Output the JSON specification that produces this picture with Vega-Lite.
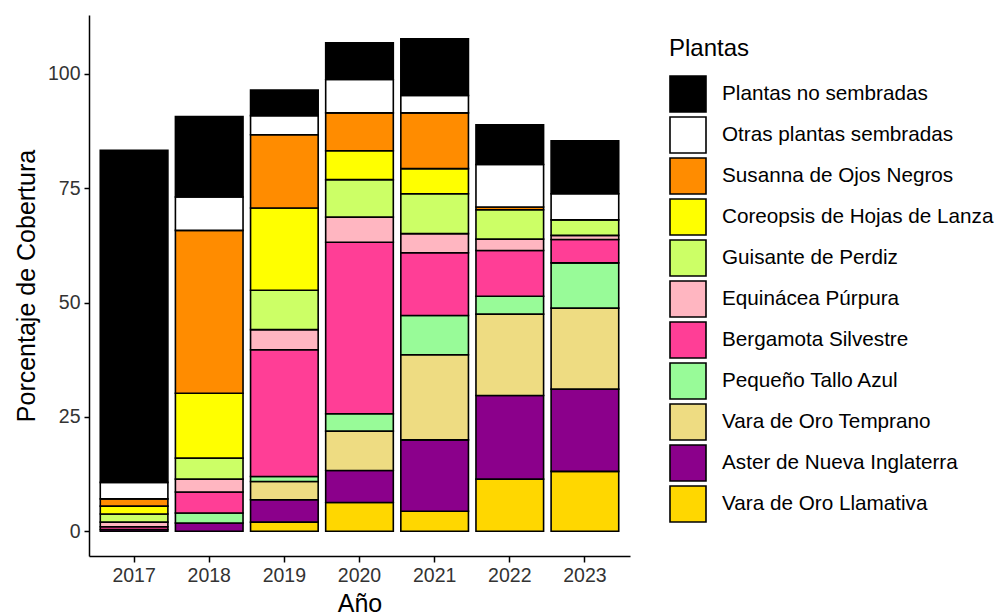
{
  "$schema": "https://vega.github.io/schema/vega-lite/v6.json",
  "width": 541,
  "height": 541,
  "autosize": "none",
  "padding": {"left": 89, "top": 15, "right": 366, "bottom": 60},
  "background": "white",
  "config": {
    "view": {"stroke": null},
    "font": "Liberation Sans"
  },
  "data": {
    "values": [
      {"Año": "2017", "Plantas": "Aster de Nueva Inglaterra", "Porcentaje": 0.4},
      {"Año": "2017", "Plantas": "Bergamota Silvestre", "Porcentaje": 0.6},
      {"Año": "2017", "Plantas": "Equinácea Púrpura", "Porcentaje": 1.0},
      {"Año": "2017", "Plantas": "Guisante de Perdiz", "Porcentaje": 1.8},
      {"Año": "2017", "Plantas": "Coreopsis de Hojas de Lanza", "Porcentaje": 1.7},
      {"Año": "2017", "Plantas": "Susanna de Ojos Negros", "Porcentaje": 1.6},
      {"Año": "2017", "Plantas": "Otras plantas sembradas", "Porcentaje": 3.6},
      {"Año": "2017", "Plantas": "Plantas no sembradas", "Porcentaje": 72.6},

      {"Año": "2018", "Plantas": "Aster de Nueva Inglaterra", "Porcentaje": 1.8},
      {"Año": "2018", "Plantas": "Pequeño Tallo Azul", "Porcentaje": 2.2},
      {"Año": "2018", "Plantas": "Bergamota Silvestre", "Porcentaje": 4.6},
      {"Año": "2018", "Plantas": "Equinácea Púrpura", "Porcentaje": 2.8},
      {"Año": "2018", "Plantas": "Guisante de Perdiz", "Porcentaje": 4.6},
      {"Año": "2018", "Plantas": "Coreopsis de Hojas de Lanza", "Porcentaje": 14.2},
      {"Año": "2018", "Plantas": "Susanna de Ojos Negros", "Porcentaje": 35.6},
      {"Año": "2018", "Plantas": "Otras plantas sembradas", "Porcentaje": 7.3},
      {"Año": "2018", "Plantas": "Plantas no sembradas", "Porcentaje": 17.6},

      {"Año": "2019", "Plantas": "Vara de Oro Llamativa", "Porcentaje": 2.0},
      {"Año": "2019", "Plantas": "Aster de Nueva Inglaterra", "Porcentaje": 4.9},
      {"Año": "2019", "Plantas": "Vara de Oro Temprano", "Porcentaje": 4.0},
      {"Año": "2019", "Plantas": "Pequeño Tallo Azul", "Porcentaje": 1.1},
      {"Año": "2019", "Plantas": "Bergamota Silvestre", "Porcentaje": 27.7},
      {"Año": "2019", "Plantas": "Equinácea Púrpura", "Porcentaje": 4.4},
      {"Año": "2019", "Plantas": "Guisante de Perdiz", "Porcentaje": 8.6},
      {"Año": "2019", "Plantas": "Coreopsis de Hojas de Lanza", "Porcentaje": 18.0},
      {"Año": "2019", "Plantas": "Susanna de Ojos Negros", "Porcentaje": 16.0},
      {"Año": "2019", "Plantas": "Otras plantas sembradas", "Porcentaje": 4.2},
      {"Año": "2019", "Plantas": "Plantas no sembradas", "Porcentaje": 5.6},

      {"Año": "2020", "Plantas": "Vara de Oro Llamativa", "Porcentaje": 6.3},
      {"Año": "2020", "Plantas": "Aster de Nueva Inglaterra", "Porcentaje": 7.0},
      {"Año": "2020", "Plantas": "Vara de Oro Temprano", "Porcentaje": 8.6},
      {"Año": "2020", "Plantas": "Pequeño Tallo Azul", "Porcentaje": 3.8},
      {"Año": "2020", "Plantas": "Bergamota Silvestre", "Porcentaje": 37.5},
      {"Año": "2020", "Plantas": "Equinácea Púrpura", "Porcentaje": 5.5},
      {"Año": "2020", "Plantas": "Guisante de Perdiz", "Porcentaje": 8.2},
      {"Año": "2020", "Plantas": "Coreopsis de Hojas de Lanza", "Porcentaje": 6.3},
      {"Año": "2020", "Plantas": "Susanna de Ojos Negros", "Porcentaje": 8.3},
      {"Año": "2020", "Plantas": "Otras plantas sembradas", "Porcentaje": 7.3},
      {"Año": "2020", "Plantas": "Plantas no sembradas", "Porcentaje": 8.0},

      {"Año": "2021", "Plantas": "Vara de Oro Llamativa", "Porcentaje": 4.4},
      {"Año": "2021", "Plantas": "Aster de Nueva Inglaterra", "Porcentaje": 15.6},
      {"Año": "2021", "Plantas": "Vara de Oro Temprano", "Porcentaje": 18.6},
      {"Año": "2021", "Plantas": "Pequeño Tallo Azul", "Porcentaje": 8.6},
      {"Año": "2021", "Plantas": "Bergamota Silvestre", "Porcentaje": 13.7},
      {"Año": "2021", "Plantas": "Equinácea Púrpura", "Porcentaje": 4.2},
      {"Año": "2021", "Plantas": "Guisante de Perdiz", "Porcentaje": 8.7},
      {"Año": "2021", "Plantas": "Coreopsis de Hojas de Lanza", "Porcentaje": 5.5},
      {"Año": "2021", "Plantas": "Susanna de Ojos Negros", "Porcentaje": 12.2},
      {"Año": "2021", "Plantas": "Otras plantas sembradas", "Porcentaje": 3.8},
      {"Año": "2021", "Plantas": "Plantas no sembradas", "Porcentaje": 12.4},

      {"Año": "2022", "Plantas": "Vara de Oro Llamativa", "Porcentaje": 11.4},
      {"Año": "2022", "Plantas": "Aster de Nueva Inglaterra", "Porcentaje": 18.3},
      {"Año": "2022", "Plantas": "Vara de Oro Temprano", "Porcentaje": 17.8},
      {"Año": "2022", "Plantas": "Pequeño Tallo Azul", "Porcentaje": 3.9},
      {"Año": "2022", "Plantas": "Bergamota Silvestre", "Porcentaje": 10.0},
      {"Año": "2022", "Plantas": "Equinácea Púrpura", "Porcentaje": 2.5},
      {"Año": "2022", "Plantas": "Guisante de Perdiz", "Porcentaje": 6.4},
      {"Año": "2022", "Plantas": "Susanna de Ojos Negros", "Porcentaje": 0.6},
      {"Año": "2022", "Plantas": "Otras plantas sembradas", "Porcentaje": 9.3},
      {"Año": "2022", "Plantas": "Plantas no sembradas", "Porcentaje": 8.7},

      {"Año": "2023", "Plantas": "Vara de Oro Llamativa", "Porcentaje": 13.1},
      {"Año": "2023", "Plantas": "Aster de Nueva Inglaterra", "Porcentaje": 18.0},
      {"Año": "2023", "Plantas": "Vara de Oro Temprano", "Porcentaje": 17.7},
      {"Año": "2023", "Plantas": "Pequeño Tallo Azul", "Porcentaje": 9.9},
      {"Año": "2023", "Plantas": "Bergamota Silvestre", "Porcentaje": 5.1},
      {"Año": "2023", "Plantas": "Equinácea Púrpura", "Porcentaje": 0.9},
      {"Año": "2023", "Plantas": "Guisante de Perdiz", "Porcentaje": 3.4},
      {"Año": "2023", "Plantas": "Otras plantas sembradas", "Porcentaje": 5.7},
      {"Año": "2023", "Plantas": "Plantas no sembradas", "Porcentaje": 11.6}
    ]
  },
  "transform": [
    {"calculate": "indexof(['Vara de Oro Llamativa','Aster de Nueva Inglaterra','Vara de Oro Temprano','Pequeño Tallo Azul','Bergamota Silvestre','Equinácea Púrpura','Guisante de Perdiz','Coreopsis de Hojas de Lanza','Susanna de Ojos Negros','Otras plantas sembradas','Plantas no sembradas'], datum.Plantas)", "as": "capa"}
  ],
  "mark": {"type": "bar", "stroke": "black", "strokeWidth": 1.6},
  "encoding": {
    "x": {
      "field": "Año", "type": "ordinal",
      "scale": {"paddingInner": 0.1, "paddingOuter": 0.15},
      "axis": {
        "labelAngle": 0, "labelFontSize": 19.5, "labelColor": "#333333", "labelPadding": 4,
        "tickColor": "black", "tickSize": 6, "tickWidth": 1.5,
        "domainColor": "black", "domainWidth": 1.5,
        "title": "Año", "titleFontSize": 25, "titleFontWeight": "normal", "titleColor": "black", "titlePadding": 7
      }
    },
    "y": {
      "field": "Porcentaje", "type": "quantitative", "stack": "zero",
      "scale": {"domain": [-5.4, 112.9], "nice": false, "zero": false},
      "axis": {
        "values": [0, 25, 50, 75, 100], "grid": false,
        "labelFontSize": 19.5, "labelColor": "#333333", "labelPadding": 4,
        "tickColor": "black", "tickSize": 5, "tickWidth": 1.5,
        "domainColor": "black", "domainWidth": 1.5,
        "title": "Porcentaje de Cobertura", "titleFontSize": 25, "titleFontWeight": "normal", "titleColor": "black", "titlePadding": 8
      }
    },
    "color": {
      "field": "Plantas", "type": "nominal",
      "scale": {
        "domain": ["Plantas no sembradas", "Otras plantas sembradas", "Susanna de Ojos Negros", "Coreopsis de Hojas de Lanza", "Guisante de Perdiz", "Equinácea Púrpura", "Bergamota Silvestre", "Pequeño Tallo Azul", "Vara de Oro Temprano", "Aster de Nueva Inglaterra", "Vara de Oro Llamativa"],
        "range": ["#000000", "#FFFFFF", "#FF8C00", "#FFFF00", "#CCFF66", "#FFB6C1", "#FF3E96", "#98FB98", "#EEDC82", "#8B008B", "#FFD700"]
      },
      "legend": {
        "orient": "none", "legendX": 580, "legendY": 22,
        "title": "Plantas", "titleFontSize": 24, "titleFontWeight": "normal", "titleColor": "black", "titlePadding": 14,
        "symbolType": "square", "symbolSize": 1296, "symbolStrokeColor": "black", "symbolStrokeWidth": 1.6, "symbolOpacity": 1,
        "labelFontSize": 20.7, "labelColor": "black", "labelOffset": 15, "rowPadding": -5, "labelLimit": 400
      }
    },
    "order": {"field": "capa", "type": "quantitative", "sort": "ascending"}
  }
}
